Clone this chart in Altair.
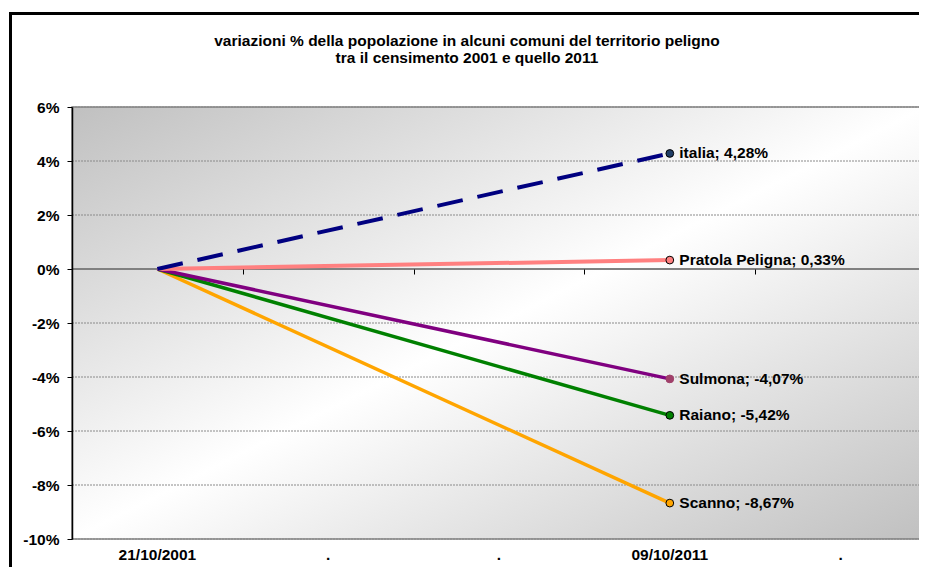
import json
import altair as alt
import pandas as pd

# ---------------- data ----------------
title_lines = [
    "variazioni % della popolazione in alcuni comuni del territorio peligno",
    "tra il censimento 2001 e quello 2011",
]
x_labels = ["21/10/2001", ".", ".", "09/10/2011", "."]
series = ["italia", "Pratola Peligna", "Sulmona", "Raiano", "Scanno"]
start_values = [0.0, 0.0, 0.0, 0.0, 0.0]
end_values = [4.28, 0.33, -4.07, -5.42, -8.67]
start_pos = 0
end_pos = 3
y_ticks = [-10, -8, -6, -4, -2, 0, 2, 4, 6]

# ---------------- styles ----------------
line_colors = ["#000080", "#FF8080", "#800080", "#008000", "#FFA500"]
marker_fill = ["#1F3D66", "#FF8080", "#A0406A", "#008000", "#FFA500"]
marker_stroke = ["#000000", "#000000", "#A0406A", "#000000", "#000000"]
line_width = [4, 4, 3.5, 3.5, 3.5]
FONT = "Liberation Sans"
FS = 15.5
W, H = 854, 432

rows = []
for s, v0, v1 in zip(series, start_values, end_values):
    lab = f"{s}; {v1:.2f}%".replace(".", ",")
    rows.append({"serie": s, "pos": start_pos, "value": v0 / 100, "label": lab, "end": False})
    rows.append({"serie": s, "pos": end_pos, "value": v1 / 100, "label": lab, "end": True})
df = pd.DataFrame(rows)
grid_df = pd.DataFrame({"v": [t / 100 for t in y_ticks if t != 0]})
zero_df = pd.DataFrame({"v": [0.0]})

x_scale = alt.Scale(domain=list(range(len(x_labels))), type="band", paddingInner=0, paddingOuter=0)
y_scale = alt.Scale(domain=[y_ticks[0] / 100, y_ticks[-1] / 100], nice=False, zero=False)

label_expr = f"{json.dumps(x_labels)}[datum.value]"

y_axis = alt.Axis(
    values=[t / 100 for t in y_ticks],
    labelExpr="round(datum.value*100) + '%'",
    grid=False,
    title=None,
    orient="left",
    domainColor="black",
    domainWidth=1.5,
    tickColor="black",
    tickSize=5,
    tickWidth=1,
    labelFont=FONT,
    labelFontSize=FS,
    labelFontWeight="bold",
    labelColor="black",
    labelPadding=8,
    zindex=1,
)


def Y(field):
    return alt.Y(field, scale=y_scale, axis=y_axis)


# background with gradient
background = alt.Chart(zero_df).mark_rect(
    fill=alt.LinearGradient(
        gradient="linear", x1=0, y1=0, x2=1, y2=1,
        stops=[
            alt.GradientStop(offset=0, color="#c0c0c0"),
            alt.GradientStop(offset=0.5, color="#ffffff"),
            alt.GradientStop(offset=1, color="#c0c0c0"),
        ],
    ),
    stroke="#808080",
    strokeWidth=1.5,
).encode(x=alt.value(0), x2=alt.value(W), y=alt.value(0), y2=alt.value(H))

grid = alt.Chart(grid_df).mark_rule(color="#8a8a8a", strokeWidth=1, strokeDash=[2, 1]).encode(
    y=Y("v:Q")
)

zero_line = alt.Chart(zero_df).mark_rule(color="#808080", strokeWidth=2).encode(y=Y("v:Q"))

order = [4, 3, 2, 1, 0]
lines = []
points = []
for i in order:
    s = series[i]
    sub = df[df["serie"] == s]
    mk = dict(color=line_colors[i], strokeWidth=line_width[i])
    if s == "italia":
        mk["strokeDash"] = [26, 15]
    first = len(lines) == 0
    lines.append(
        alt.Chart(sub).mark_line(**mk).encode(
            x=alt.X(
                "pos:O",
                scale=x_scale,
                axis=alt.Axis(
                    orient="bottom",
                    labelExpr=label_expr,
                    labelAngle=0,
                    labelFont=FONT,
                    labelFontSize=FS,
                    labelFontWeight="bold",
                    labelColor="black",
                    labelPadding=8,
                    domain=False,
                    ticks=False,
                    grid=False,
                    title=None,
                ) if first else None,
            ),
            y=Y("value:Q"),
        )
    )
    points.append(
        alt.Chart(sub[sub["end"]]).mark_point(
            shape="circle", filled=True, fill=marker_fill[i], stroke=marker_stroke[i],
            strokeWidth=1, size=60, opacity=1,
        ).encode(
            x=alt.X("pos:O", scale=x_scale, axis=None),
            y=Y("value:Q"),
        )
    )

# tick marks on the 0% line at category boundaries
zero_offset = H * y_ticks[-1] / (y_ticks[-1] - y_ticks[0])
tick_axis = alt.Chart(df[df["end"]]).mark_text(text="").encode(
    x=alt.X(
        "pos:O",
        scale=x_scale,
        axis=alt.Axis(
            orient="bottom",
            offset=-(H - zero_offset),
            labels=False,
            domain=False,
            ticks=True,
            tickBand="extent",
            tickColor="black",
            tickSize=5,
            tickWidth=1,
            grid=False,
            title=None,
            zindex=1,
        ),
    ),
    y=Y("value:Q"),
)

labels = alt.Chart(df[df["end"]]).mark_text(
    align="left", baseline="middle", dx=9.5, fontSize=FS, fontWeight="bold", font=FONT, color="black"
).encode(
    x=alt.X("pos:O", scale=x_scale, axis=None),
    y=Y("value:Q"),
    text="label:N",
)

title = alt.Chart(zero_df).mark_text(
    text=title_lines, align="center", baseline="middle", fontSize=FS, fontWeight="bold",
    font=FONT, color="black", lineHeight=17,
).encode(x=alt.value(395), y=alt.value(-66))

border = alt.Chart(zero_df).mark_rect(
    fillOpacity=0, stroke="black", strokeWidth=3
).encode(x=alt.value(-61.5), x2=alt.value(W + 100), y=alt.value(-93.5), y2=alt.value(H + 100))

chart = alt.layer(
    background, grid, zero_line, *lines, *points, tick_axis, labels, title, border
).resolve_axis(x="independent").properties(
    width=W,
    height=H,
    autosize="none",
    padding={"left": 64, "top": 99, "right": -7, "bottom": 28},
    background="white",
).configure_view(strokeWidth=0)

chart.save("out.html", embed_options={"renderer": "svg", "actions": False})
